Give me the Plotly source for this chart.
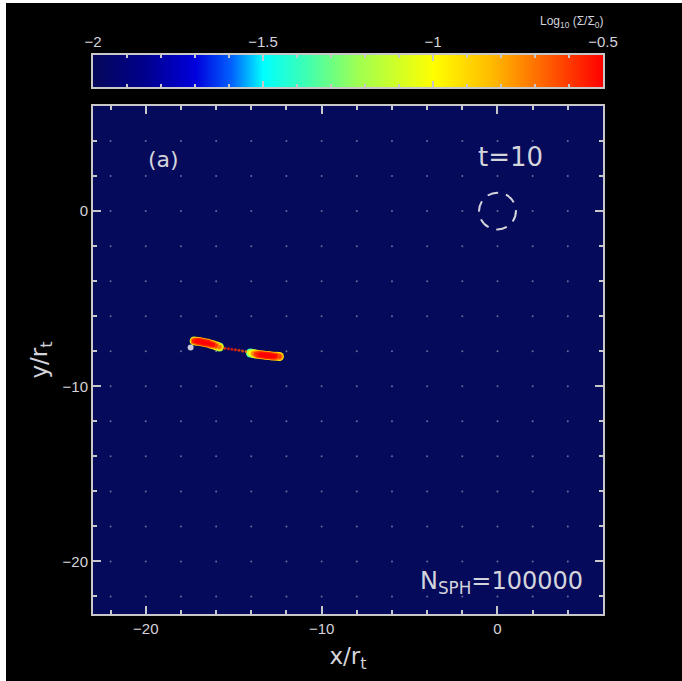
import plotly.graph_objects as go

# ---------------- data ----------------
x_range = [-23, 6]
y_range = [-23, 6]
grid_points = [-22, -20, -18, -16, -14, -12, -10, -8, -6, -4, -2, 0, 2, 4]

cbar_range = [-2.0, -0.5]
cbar_levels = [-2.0, -1.9, -1.8, -1.7, -1.6, -1.5, -1.4, -1.3, -1.2, -1.1,
               -1.0, -0.9, -0.8, -0.7, -0.6, -0.5]
cbar_ticks = [-2.0, -1.5, -1.0, -0.5]
cbar_tick_text = ["\u22122", "\u22121.5", "\u22121", "\u22120.5"]

# left (leading) clump of the debris stream: ridge positions and log10(Sigma/Sigma0)
left_x = [-17.25, -17.09, -16.93, -16.77, -16.61, -16.45, -16.29, -16.13, -15.97, -15.81]
left_y = [-7.41, -7.43, -7.45, -7.48, -7.51, -7.55, -7.60, -7.65, -7.70, -7.76]
left_rim = [-1.1, -0.85, -0.8, -0.8, -0.8, -0.8, -0.85, -0.9, -1.0, -1.2]
left_mid = [-0.7, -0.6, -0.55, -0.55, -0.55, -0.56, -0.6, -0.65, -0.75, -0.9]
left_core = [-0.55, -0.5, -0.5, -0.5, -0.5, -0.5, -0.5, -0.52, -0.6, -0.72]

# thin filament joining the two clumps
fil_x = [-15.7, -15.5, -15.3, -15.1, -14.9, -14.7, -14.5, -14.3, -14.15]
fil_y = [-7.80, -7.83, -7.86, -7.89, -7.92, -7.95, -7.98, -8.01, -8.04]
fil_logS = [-0.7, -0.6, -0.55, -0.55, -0.58, -0.6, -0.65, -0.7, -0.85]

# right (trailing) clump
right_x = [-14.05, -13.9, -13.75, -13.6, -13.45, -13.3, -13.15, -13.0, -12.85, -12.7, -12.55, -12.4]
right_y = [-8.10, -8.13, -8.16, -8.18, -8.20, -8.22, -8.24, -8.25, -8.27, -8.28, -8.29, -8.30]
right_rim = [-1.4, -1.2, -1.0, -0.85, -0.8, -0.8, -0.8, -0.8, -0.8, -0.8, -0.85, -0.95]
right_mid = [-1.15, -0.95, -0.75, -0.62, -0.58, -0.55, -0.55, -0.55, -0.55, -0.58, -0.62, -0.75]
right_core = [-1.0, -0.75, -0.6, -0.55, -0.5, -0.5, -0.5, -0.5, -0.5, -0.5, -0.52, -0.62]

# saturated knot at the stream tip
knot_x = [-17.45]
knot_y = [-7.78]

# dashed reference circle around the black hole
circle_center = [0.0, 0.0]
circle_radius = 1.05

# ---------------- styles ----------------
jet_scale = [[0.0, "#05075a"], [0.10, "#00008c"], [0.2, "#0000dc"], [0.27, "#0060ff"],
             [0.333, "#00ffff"], [0.42, "#40ffb0"], [0.52, "#a0ff50"], [0.667, "#ffff00"],
             [0.78, "#ffbb00"], [0.88, "#ff6600"], [1.0, "#ff0000"]]
FG = "#d4d4dc"
LINE = "#c8c8c8"
NAVY = "#060a5a"

fig = go.Figure()

# grid dots
gx = [gxv for gxv in grid_points for _ in grid_points]
gy = [gyv for _ in grid_points for gyv in grid_points]
fig.add_trace(go.Scatter(x=gx, y=gy, mode="markers",
                         marker=dict(size=2, color="#6c6c9c"), hoverinfo="skip"))

# stream layers
fig.add_trace(go.Scatter(x=left_x + right_x, y=left_y + right_y, mode="markers",
                         marker=dict(size=9, color=left_rim + right_rim, coloraxis="coloraxis",
                                     line=dict(width=0))))
fig.add_trace(go.Scatter(x=fil_x, y=fil_y, mode="markers",
                         marker=dict(size=3, color=fil_logS, coloraxis="coloraxis",
                                     line=dict(width=0), opacity=0.8)))
fig.add_trace(go.Scatter(x=left_x + right_x, y=left_y + right_y, mode="markers",
                         marker=dict(size=7, color=left_mid + right_mid, coloraxis="coloraxis",
                                     line=dict(width=0))))
fig.add_trace(go.Scatter(x=left_x + right_x, y=left_y + right_y, mode="markers",
                         marker=dict(size=4.5, color=left_core + right_core, coloraxis="coloraxis",
                                     line=dict(width=0))))
fig.add_trace(go.Scatter(x=knot_x, y=knot_y, mode="markers",
                         marker=dict(size=6, color="#c8c8dc", line=dict(width=0))))

# colour bar drawn as a heatmap strip
fig.add_trace(go.Heatmap(x=cbar_levels, y=[0, 1], z=[cbar_levels, cbar_levels],
                         coloraxis="coloraxis", zsmooth="best", xaxis="x2", yaxis="y2",
                         hoverinfo="skip"))

fig.add_shape(type="circle", xref="x", yref="y",
              x0=circle_center[0] - circle_radius, x1=circle_center[0] + circle_radius,
              y0=circle_center[1] - circle_radius, y1=circle_center[1] + circle_radius,
              line=dict(color=FG, width=2, dash="11px,8px"))

axis_common = dict(showline=True, linecolor=LINE, linewidth=2, mirror="allticks",
                   ticks="inside", tickcolor=LINE, tickwidth=1.5, showgrid=False,
                   zeroline=False)
tickfont = dict(family="Liberation Sans, Arial, sans-serif", size=15, color=FG)
bigfont = dict(family="DejaVu Sans, sans-serif", size=23, color=FG)

# page body is given a 3px top / 6px left margin (white strip as in the reference)
W, H = 676, 678
fig.update_layout(
    width=W, height=H,
    margin=dict(l=87, r=79, t=52, b=67),
    paper_bgcolor="black", plot_bgcolor=NAVY,
    showlegend=False,
    coloraxis=dict(colorscale=jet_scale, cmin=cbar_range[0], cmax=cbar_range[1], showscale=False),
    xaxis=dict(domain=[0, 1], range=x_range, tick0=0, dtick=10, ticklen=8,
               minor=dict(dtick=2, ticks="inside", ticklen=4, tickcolor=LINE, showgrid=False),
               tickfont=tickfont,
               title=dict(text="x/r<sub>t</sub>", font=bigfont, standoff=12),
               **axis_common),
    yaxis=dict(domain=[0, 0.90877], range=y_range, tick0=0, dtick=10, ticklen=8,
               minor=dict(dtick=2, ticks="inside", ticklen=4, tickcolor=LINE, showgrid=False),
               tickfont=tickfont,
               title=dict(text="y/r<sub>t</sub>", font=bigfont, standoff=8),
               **axis_common),
    xaxis2=dict(domain=[0, 1], anchor="y2", side="top", range=cbar_range,
                tickvals=cbar_ticks, ticktext=cbar_tick_text, ticklen=6,
                minor=dict(dtick=0.1, tick0=-2, ticks="inside", ticklen=3, tickcolor=LINE,
                           showgrid=False),
                tickfont=tickfont, **axis_common),
    yaxis2=dict(domain=[0.94275, 1], anchor="x2", range=[0, 1], showticklabels=False,
                showline=True, linecolor=LINE, linewidth=2, mirror=True, showgrid=False,
                zeroline=False, ticks=""),
)

fig.add_annotation(x=-19.0, y=2.92, xref="x", yref="y", text="(a)", showarrow=False,
                   font=dict(family="DejaVu Sans, sans-serif", size=22, color=FG))
fig.add_annotation(x=0.76, y=3.06, xref="x", yref="y", text="t=10", showarrow=False,
                   font=dict(family="DejaVu Sans, sans-serif", size=26, color=FG))
fig.add_annotation(x=4.97, y=-21.2, xref="x", yref="y", text="N<sub>SPH</sub>=100000",
                   showarrow=False, xanchor="right",
                   font=dict(family="DejaVu Sans, sans-serif", size=24, color=FG))
fig.add_annotation(x=1.005, y=1.059, xref="paper", yref="paper", xanchor="right", yanchor="middle",
                   text="Log<sub>10</sub> (\u03a3/\u03a3<sub>0</sub>)", showarrow=False,
                   font=dict(family="Liberation Sans, Arial, sans-serif", size=12, color=FG))

fig.write_html(
    "out.html",
    post_script=("document.body.style.margin='3px 0 0 6px';"
                 "document.body.style.background='white';"
                 "document.documentElement.style.overflow='hidden';"),
)
